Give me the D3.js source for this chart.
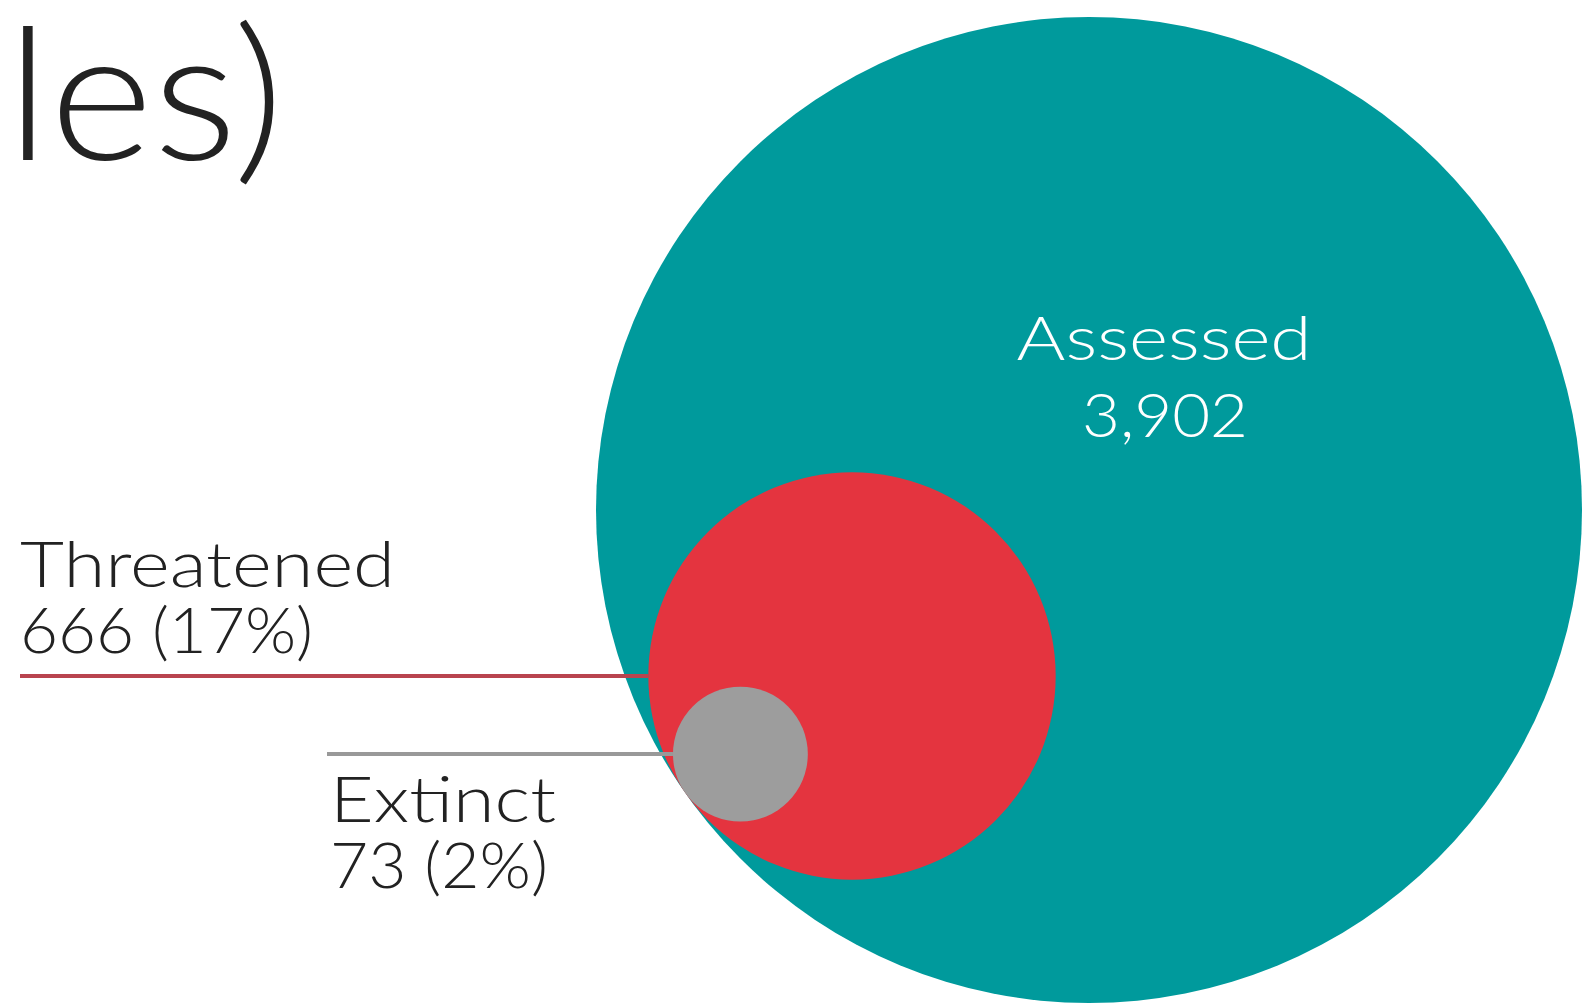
<!DOCTYPE html>
<html>
<head>
<meta charset="utf-8">
<script src="https://cdn.jsdelivr.net/npm/d3@7"></script>
<style>
  html, body { margin: 0; padding: 0; background: #fff; }
  svg { display: block; }
  text { font-family: Lato, "Open Sans", sans-serif; font-weight: 300; }
</style>
</head>
<body>
<svg id="chart"></svg>
<script>
// data
var categories = ["Assessed", "Threatened", "Extinct"];
var counts = [3902, 666, 73];
var valueLabels = ["3,902", "666 (17%)", "73 (2%)"];
var titleTail = "les)";

var width = 1584, height = 1006;
var colors = ["#009a9c", "#e4343f", "#9d9d9d"];
var lineColors = [null, "#b9444f", "#999999"];

var svg = d3.select("#chart").attr("width", width).attr("height", height);

// circle area ~ count
var r = d3.scaleSqrt().domain([0, d3.max(counts)]).range([0, 493]);

// all circles touch at one point on the big one (lower left)
var cx0 = 1089, cy0 = 510;
var ang = 145 * Math.PI / 180;
var px = cx0 + Math.cos(ang) * r(counts[0]);
var py = cy0 + Math.sin(ang) * r(counts[0]);

var circles = counts.map(function(c, i) {
    var rr = r(c);
    return {
        name: categories[i],
        value: valueLabels[i],
        r: rr,
        cx: i == 0 ? cx0 : px - Math.cos(ang) * rr,
        cy: i == 0 ? cy0 : py - Math.sin(ang) * rr,
        color: colors[i]
    };
});

// big title fragment, cut off at the left
svg.append("text")
    .attr("x", 6)
    .attr("y", 160)
    .attr("font-size", 184)
    .attr("fill", "#222")
    .attr("textLength", 278)
    .attr("lengthAdjust", "spacingAndGlyphs")
    .text(titleTail);

// assessed
var a = circles[0];
svg.append("circle").attr("cx", a.cx).attr("cy", a.cy).attr("r", a.r).attr("fill", a.color);
svg.append("text").attr("x", 1164).attr("y", 360).attr("text-anchor", "middle")
    .attr("font-size", 62).attr("fill", "#fff")
    .attr("textLength", 295).attr("lengthAdjust", "spacingAndGlyphs")
    .text(a.name);
svg.append("text").attr("x", 1165).attr("y", 437).attr("text-anchor", "middle")
    .attr("font-size", 62).attr("fill", "#fff")
    .attr("textLength", 166).attr("lengthAdjust", "spacingAndGlyphs")
    .text(a.value);

// threatened
var t = circles[1];
svg.append("line")
    .attr("x1", 20).attr("x2", t.cx - t.r)
    .attr("y1", t.cy).attr("y2", t.cy)
    .attr("stroke", lineColors[1]).attr("stroke-width", 4);
svg.append("circle").attr("cx", t.cx).attr("cy", t.cy).attr("r", t.r).attr("fill", t.color);
svg.append("text").attr("x", 20).attr("y", 587)
    .attr("font-size", 63).attr("fill", "#222")
    .attr("textLength", 375).attr("lengthAdjust", "spacingAndGlyphs")
    .text(t.name);
svg.append("text").attr("x", 20).attr("y", 653)
    .attr("font-size", 63).attr("fill", "#222")
    .attr("textLength", 293).attr("lengthAdjust", "spacingAndGlyphs")
    .text(t.value);

// extinct
var e = circles[2];
svg.append("line")
    .attr("x1", 327).attr("x2", e.cx - e.r)
    .attr("y1", e.cy).attr("y2", e.cy)
    .attr("stroke", lineColors[2]).attr("stroke-width", 4);
svg.append("circle").attr("cx", e.cx).attr("cy", e.cy).attr("r", e.r).attr("fill", e.color);
svg.append("text").attr("x", 330).attr("y", 822)
    .attr("font-size", 63).attr("fill", "#222")
    .attr("textLength", 226).attr("lengthAdjust", "spacingAndGlyphs")
    .text(e.name);
svg.append("text").attr("x", 330).attr("y", 888)
    .attr("font-size", 63).attr("fill", "#222")
    .attr("textLength", 218).attr("lengthAdjust", "spacingAndGlyphs")
    .text(e.value);
</script>
</body>
</html>
